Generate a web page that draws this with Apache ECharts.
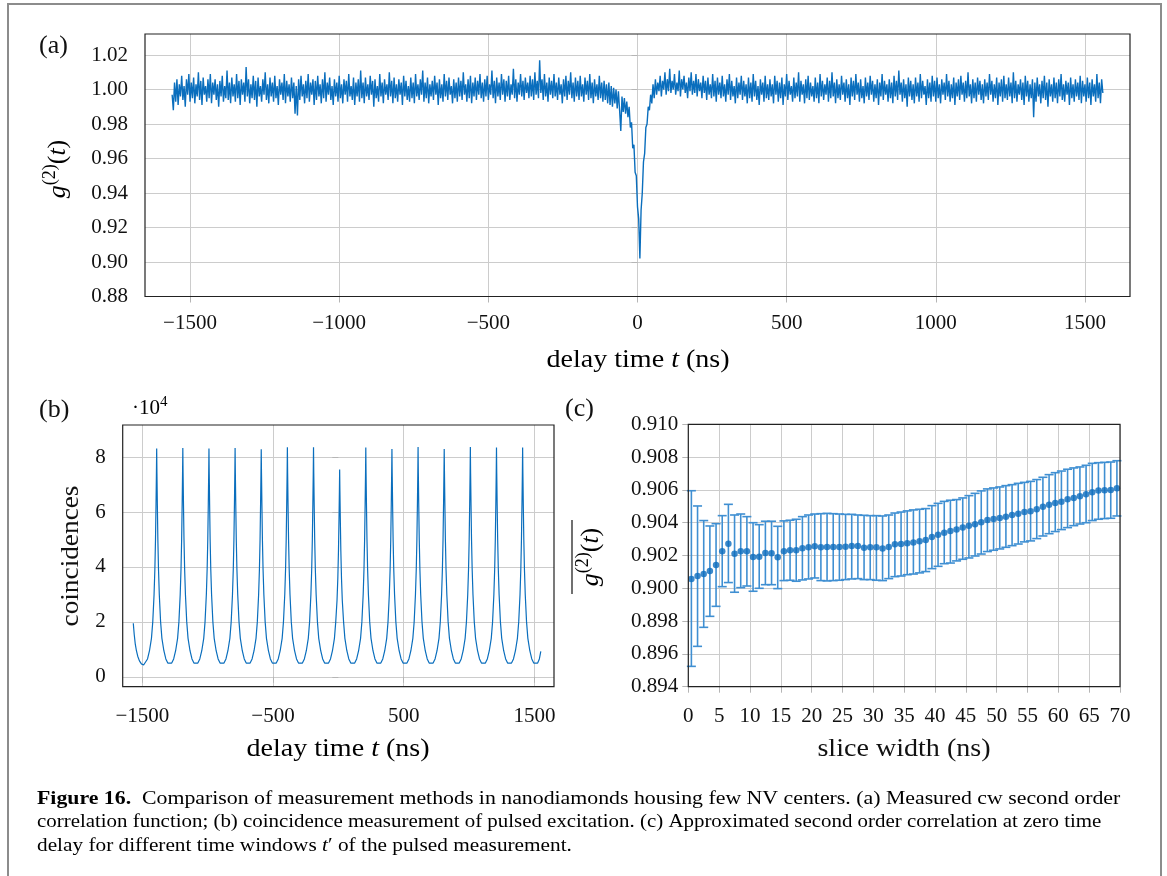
<!DOCTYPE html>
<html><head><meta charset="utf-8">
<script src="https://cdn.jsdelivr.net/npm/echarts@6/dist/echarts.min.js"></script>
<style>html,body{margin:0;padding:0;background:#fff}#c{width:1167px;height:876px}</style>
</head><body><div id="c"></div>
<script>
// ---------- Panel (a): cw g2(t), sampled every 4 ns from -1560 ns ----------
const g2Start = -1560, g2Step = 4;
const g2Values = [
0.997,0.988,1.004,0.993,1.006,0.991,1.003,0.996,1.008,0.994,1.002,0.990,1.006,0.997,1.009,0.993,1.004,0.995,1.007,0.992,
1.003,0.996,1.010,0.994,1.005,0.991,1.007,0.997,1.002,0.993,1.006,0.995,1.009,0.992,1.004,0.997,1.006,0.994,1.003,0.990,
1.005,0.996,1.008,0.993,1.002,0.995,1.011,0.994,1.004,0.992,1.007,0.996,1.003,0.993,1.009,0.995,1.005,0.991,1.006,0.997,
1.004,0.993,1.013,0.996,1.006,0.992,1.003,0.995,1.008,0.994,1.005,0.990,1.007,0.996,1.002,0.993,1.006,0.997,1.010,0.994,
1.003,0.992,1.007,0.996,1.004,0.993,1.008,0.995,1.002,0.991,1.006,0.997,1.004,0.994,1.009,0.992,1.005,0.996,1.003,0.993,
1.007,0.995,1.004,0.986,1.002,0.985,1.006,0.994,1.008,0.996,1.003,0.992,1.005,0.995,1.009,0.993,1.004,0.997,1.006,0.991,
1.005,0.994,1.008,0.996,1.003,0.992,1.006,0.995,1.010,0.993,1.004,0.997,1.007,0.994,1.002,0.991,1.006,0.996,1.004,0.993,
1.008,0.995,1.003,0.992,1.006,0.997,1.005,0.993,1.009,0.996,1.002,0.994,1.007,0.991,1.004,0.996,1.006,0.993,1.011,0.995,
1.004,0.992,1.007,0.996,1.003,0.994,1.008,0.997,1.005,0.990,1.006,0.995,1.002,0.993,1.009,0.996,1.004,0.992,1.006,0.997,
1.003,0.994,1.010,0.996,1.005,0.992,1.007,0.995,1.003,0.993,1.006,0.997,1.004,0.991,1.008,0.996,1.005,0.994,1.002,0.993,
1.007,0.995,1.004,0.992,1.009,0.996,1.003,0.994,1.006,0.997,1.011,0.993,1.004,0.995,1.007,0.992,1.003,0.996,1.005,0.994,
1.008,0.997,1.004,0.991,1.006,0.995,1.003,0.993,1.009,0.996,1.005,0.994,1.007,0.997,1.002,0.992,1.006,0.995,1.004,0.993,
1.007,0.996,1.005,0.994,1.010,0.997,1.003,0.993,1.006,0.995,1.008,0.992,1.004,0.996,1.007,0.994,1.005,0.997,1.009,0.995,
1.004,0.993,1.006,0.996,1.008,0.994,1.003,0.997,1.011,0.995,1.005,0.992,1.007,0.996,1.004,0.994,1.009,0.997,1.006,0.993,
1.005,0.996,1.008,0.994,1.003,0.997,1.012,0.995,1.006,0.993,1.004,0.997,1.009,0.996,1.005,0.994,1.007,0.998,1.004,0.995,
1.008,0.996,1.006,0.994,1.010,0.997,1.005,0.995,1.017,0.998,1.006,0.994,1.009,0.996,1.004,0.993,1.007,0.997,1.005,0.995,
1.009,0.996,1.004,0.994,1.007,0.997,1.003,0.992,1.006,0.996,1.008,0.994,1.005,0.997,1.010,0.995,1.004,0.993,1.007,0.996,
1.005,0.994,1.008,0.996,1.003,0.993,1.007,0.997,1.005,0.994,1.009,0.995,1.004,0.992,1.006,0.996,1.003,0.994,1.008,0.995,
1.004,0.993,1.005,0.994,1.003,0.992,1.004,0.991,1.002,0.990,1.001,0.992,1.000,0.989,0.999,0.988,0.976,0.996,0.987,0.995,
0.986,0.993,0.984,0.990,0.978,0.981,0.966,0.968,0.952,0.950,0.932,0.925,0.902,0.930,0.940,0.958,0.963,0.978,0.980,0.990,
0.988,0.997,0.992,1.003,0.995,1.006,0.997,1.004,0.999,1.008,0.996,1.005,1.000,1.010,0.997,1.006,0.999,1.012,0.998,1.005,
1.000,1.009,0.997,1.004,0.999,1.011,0.996,1.006,1.000,1.008,0.998,1.004,0.995,1.007,0.999,1.010,0.997,1.005,0.998,1.009,
0.996,1.006,0.999,1.004,0.995,1.008,0.998,1.005,0.994,1.007,0.997,1.003,0.995,1.009,0.996,1.005,0.993,1.007,0.997,1.004,
0.995,1.008,0.996,1.003,0.993,1.006,0.997,1.009,0.994,1.005,0.996,1.002,0.992,1.007,0.995,1.004,0.997,1.008,0.994,1.005,
0.996,1.003,0.992,1.007,0.995,1.004,0.993,1.009,0.996,1.005,0.994,1.002,0.991,1.006,0.997,1.004,0.993,1.008,0.995,1.003,
0.994,1.006,0.996,1.003,0.992,1.008,0.997,1.005,0.993,1.004,0.995,1.007,0.991,1.003,0.996,1.009,0.994,1.005,0.997,1.002,
0.993,1.007,0.995,1.004,0.996,1.010,0.993,1.005,0.997,1.003,0.992,1.006,0.995,1.008,0.994,1.004,0.996,1.002,0.993,1.007,
0.995,1.004,0.992,1.009,0.996,1.005,0.994,1.003,0.997,1.007,0.993,1.005,0.995,1.010,0.996,1.004,0.992,1.006,0.995,1.003,
0.994,1.008,0.997,1.004,0.993,1.006,0.995,1.003,0.991,1.007,0.996,1.005,0.994,1.009,0.997,1.004,0.993,1.006,0.995,1.002,
0.992,1.007,0.996,1.004,0.994,1.008,0.997,1.005,0.993,1.003,0.995,1.006,0.991,1.004,0.996,1.009,0.994,1.005,0.997,1.003,
0.993,1.006,0.995,1.004,0.992,1.008,0.996,1.005,0.994,1.011,0.997,1.004,0.993,1.006,0.995,1.003,0.990,1.007,0.996,1.005,
0.994,1.003,0.992,1.007,0.996,1.004,0.993,1.009,0.995,1.005,0.997,1.002,0.991,1.006,0.995,1.004,0.993,1.008,0.996,1.005,
0.993,1.007,0.995,1.003,0.992,1.006,0.997,1.004,0.994,1.009,0.996,1.005,0.993,1.003,0.995,1.007,0.991,1.004,0.996,1.006,
0.994,1.008,0.997,1.004,0.993,1.005,0.995,1.010,0.996,1.003,0.992,1.006,0.995,1.004,0.993,1.007,0.997,1.005,0.994,1.003,
0.992,1.006,0.996,1.004,0.994,1.009,0.997,1.005,0.993,1.003,0.995,1.007,0.991,1.004,0.996,1.006,0.993,1.008,0.995,1.003,
0.994,1.007,0.996,1.004,0.992,1.010,0.995,1.005,0.993,1.003,0.997,1.006,0.994,1.004,0.991,1.008,0.996,1.005,0.993,1.003,
0.995,1.006,0.984,1.004,0.993,1.007,0.996,1.003,0.992,1.005,0.995,1.008,0.994,1.004,0.990,1.006,0.996,1.003,0.993,1.007,
0.995,1.004,0.992,1.006,0.996,1.009,0.994,1.003,0.993,1.005,0.997,1.004,0.991,1.007,0.995,1.003,0.993,1.006,0.996,1.004,
0.994,1.008,0.992,1.005,0.996,1.003,0.993,1.007,0.995,1.004,0.991,1.006,0.996,1.003,0.993,1.009,0.995,1.004,0.992,1.006,
0.998
];
const aTicksX = [-1500,-1000,-500,0,500,1000,1500];
const aTicksY = [0.88,0.90,0.92,0.94,0.96,0.98,1.00,1.02];

// ---------- Panel (b): pulsed coincidences (units of 1e4) ----------
const coincPeakTimes = [-1390,-1190,-990,-790,-590,-390,-190,10,210,410,610,810,1010,1210,1410];
const coincOffsets = [-100,-85,-70,-55,-40,-30,-20,-14,-9,-5,-2,0,2,5,9,14,20,30,40,55,70,85];
const coincRows = [
[0.43,0.50,0.65,0.95,1.40,2.00,3.00,3.90,5.00,6.30,7.40,8.31,7.40,6.30,5.00,3.90,3.00,2.00,1.40,0.95,0.65,0.50],
[0.43,0.50,0.65,0.95,1.40,2.00,3.00,3.90,5.00,6.30,7.40,8.33,7.40,6.30,5.00,3.90,3.00,2.00,1.40,0.95,0.65,0.50],
[0.43,0.50,0.65,0.95,1.40,2.00,3.00,3.90,5.00,6.30,7.40,8.31,7.40,6.30,5.00,3.90,3.00,2.00,1.40,0.95,0.65,0.50],
[0.43,0.50,0.65,0.95,1.40,2.00,3.00,3.90,5.00,6.30,7.40,8.33,7.40,6.30,5.00,3.90,3.00,2.00,1.40,0.95,0.65,0.50],
[0.43,0.50,0.65,0.95,1.40,2.00,3.00,3.90,5.00,6.30,7.40,8.29,7.40,6.30,5.00,3.90,3.00,2.00,1.40,0.95,0.65,0.50],
[0.43,0.50,0.65,0.95,1.40,2.00,3.00,3.90,5.00,6.30,7.40,8.36,7.40,6.30,5.00,3.90,3.00,2.00,1.40,0.95,0.65,0.50],
[0.43,0.50,0.65,0.95,1.40,2.00,3.00,3.90,5.00,6.30,7.40,8.36,7.40,6.30,5.00,3.90,3.00,2.00,1.40,0.95,0.65,0.50],
[0.43,0.50,0.65,0.95,1.40,2.00,2.80,3.60,4.60,5.75,6.75,7.55,6.75,5.75,4.60,3.60,2.80,2.00,1.40,0.95,0.65,0.50],
[0.43,0.50,0.65,0.95,1.40,2.00,3.00,3.90,5.00,6.30,7.40,8.35,7.40,6.30,5.00,3.90,3.00,2.00,1.40,0.95,0.65,0.50],
[0.43,0.50,0.65,0.95,1.40,2.00,3.00,3.90,5.00,6.30,7.40,8.30,7.40,6.30,5.00,3.90,3.00,2.00,1.40,0.95,0.65,0.50],
[0.43,0.50,0.65,0.95,1.40,2.00,3.00,3.90,5.00,6.30,7.40,8.37,7.40,6.30,5.00,3.90,3.00,2.00,1.40,0.95,0.65,0.50],
[0.43,0.50,0.65,0.95,1.40,2.00,3.00,3.90,5.00,6.30,7.40,8.30,7.40,6.30,5.00,3.90,3.00,2.00,1.40,0.95,0.65,0.50],
[0.43,0.50,0.65,0.95,1.40,2.00,3.00,3.90,5.00,6.30,7.40,8.37,7.40,6.30,5.00,3.90,3.00,2.00,1.40,0.95,0.65,0.50],
[0.43,0.50,0.65,0.95,1.40,2.00,3.00,3.90,5.00,6.30,7.40,8.35,7.40,6.30,5.00,3.90,3.00,2.00,1.40,0.95,0.65,0.50],
[0.43,0.50,0.65,0.95,1.40,2.00,3.00,3.90,5.00,6.30,7.40,8.35,7.40,6.30,5.00,3.90,3.00,2.00,1.40,0.95,0.65,0.50]
];
const coincHeadTimes = [-1569,-1562,-1554,-1545,-1535,-1522,-1507];
const coincHeadValues = [1.95,1.55,1.20,0.95,0.75,0.58,0.47];
const coincTailTimes = [1510,1525,1538,1549];
const coincTailValues = [0.43,0.50,0.65,0.93];
const bTicksX = [-1500,-500,500,1500];
const bTicksY = [0,2,4,6,8];

// ---------- Panel (c): approximated g2(0) vs slice width ----------
const sliceWidths = [0.5,1.5,2.5,3.5,4.5,5.5,6.5,7.5,8.5,9.5,10.5,11.5,12.5,13.5,14.5,15.5,16.5,17.5,18.5,19.5,
20.5,21.5,22.5,23.5,24.5,25.5,26.5,27.5,28.5,29.5,30.5,31.5,32.5,33.5,34.5,35.5,36.5,37.5,38.5,39.5,
40.5,41.5,42.5,43.5,44.5,45.5,46.5,47.5,48.5,49.5,50.5,51.5,52.5,53.5,54.5,55.5,56.5,57.5,58.5,59.5,
60.5,61.5,62.5,63.5,64.5,65.5,66.5,67.5,68.5,69.5];
const g2Mean = [0.90057,0.90075,0.90087,0.90106,0.90142,0.90226,0.90272,0.90211,0.90226,0.90226,
0.90191,0.90193,0.90215,0.90213,0.90189,0.90226,0.90232,0.90232,0.90244,0.90250,
0.90256,0.90250,0.90252,0.90252,0.90252,0.90254,0.90258,0.90258,0.90248,0.90250,
0.90250,0.90242,0.90252,0.90268,0.90270,0.90274,0.90280,0.90287,0.90295,0.90313,
0.90327,0.90339,0.90350,0.90358,0.90370,0.90381,0.90390,0.90402,0.90417,0.90423,
0.90429,0.90437,0.90447,0.90455,0.90465,0.90470,0.90482,0.90498,0.90510,0.90520,
0.90528,0.90543,0.90551,0.90561,0.90573,0.90585,0.90596,0.90598,0.90600,0.90610];
const g2Upper = [0.90595,0.90502,0.90413,0.90380,0.90394,0.90443,0.90512,0.90447,0.90453,0.90437,
0.90400,0.90388,0.90409,0.90409,0.90378,0.90411,0.90415,0.90421,0.90437,0.90447,
0.90453,0.90455,0.90457,0.90455,0.90453,0.90451,0.90451,0.90447,0.90445,0.90443,
0.90443,0.90441,0.90447,0.90459,0.90465,0.90472,0.90478,0.90482,0.90486,0.90504,
0.90518,0.90530,0.90537,0.90541,0.90551,0.90565,0.90579,0.90594,0.90606,0.90612,
0.90618,0.90626,0.90632,0.90640,0.90646,0.90652,0.90663,0.90677,0.90693,0.90705,
0.90715,0.90726,0.90734,0.90740,0.90750,0.90762,0.90766,0.90768,0.90770,0.90778];
const g2Lower = [0.89524,0.89646,0.89762,0.89829,0.89890,0.90010,0.90035,0.89976,0.90004,0.90014,
0.89982,0.90000,0.90022,0.90022,0.89998,0.90047,0.90049,0.90043,0.90051,0.90057,
0.90063,0.90047,0.90045,0.90047,0.90049,0.90053,0.90057,0.90059,0.90053,0.90053,
0.90049,0.90047,0.90059,0.90071,0.90075,0.90083,0.90087,0.90094,0.90102,0.90120,
0.90134,0.90150,0.90154,0.90167,0.90177,0.90185,0.90197,0.90209,0.90224,0.90232,
0.90240,0.90250,0.90260,0.90270,0.90283,0.90289,0.90303,0.90319,0.90333,0.90346,
0.90358,0.90370,0.90382,0.90392,0.90400,0.90413,0.90421,0.90425,0.90427,0.90441];
const cTicksY = [0.894,0.896,0.898,0.900,0.902,0.904,0.906,0.908,0.910];

// ---------- build ----------
const FONT = "'Liberation Serif','DejaVu Serif',serif";
const BLUE = '#0a6ebd';
const TXT = '#111';
const GRID_C = '#cccccc';
const TICK_C = '#b5b5b5';

const g2Data = g2Values.map((v, i) => [g2Start + i * g2Step, v]);
const coincData = [];
coincHeadTimes.forEach((t, i) => coincData.push([t, coincHeadValues[i]]));
coincPeakTimes.forEach((p, k) => coincOffsets.forEach((o, j) => coincData.push([p + o, coincRows[k][j]])));
coincTailTimes.forEach((t, i) => coincData.push([t, coincTailValues[i]]));
const meanData = sliceWidths.map((x, i) => [x, g2Mean[i]]);
const errData = sliceWidths.map((x, i) => [x, g2Lower[i], g2Upper[i]]);

const minus = s => String(s).replace('-', '\u2212');

function axis(gi, min, max, ticks, fmt, margin, extra) {
  return Object.assign({
    gridIndex: gi, type: 'value', min: min, max: max,
    axisLine: { show: false },
    axisTick: { show: true, customValues: ticks, length: 6, inside: false, lineStyle: { color: TICK_C, width: 1 } },
    axisLabel: { customValues: ticks, formatter: fmt, fontFamily: FONT, fontSize: 21, color: TXT, margin: margin },
    splitLine: { show: true, lineStyle: { color: GRID_C, width: 1 } }
  }, extra || {});
}

const boxes = [
  { x: 145, y: 34, w: 985, h: 262.5 },
  { x: 122.7, y: 425, w: 431.3, h: 261.7 },
  { x: 688.3, y: 424.3, w: 431.7, h: 262.4 }
];

const TS = 26; // axis-title font size
const g2rich = {
  g: { fontFamily: FONT, fontSize: TS, fontStyle: 'italic', color: TXT, lineHeight: 34, verticalAlign: 'middle' },
  n: { fontFamily: FONT, fontSize: TS, color: TXT, lineHeight: 34, verticalAlign: 'middle' },
  s: { fontFamily: FONT, fontSize: 18, color: TXT, lineHeight: 16, verticalAlign: 'top' }
};
const capRich = {
  b: { fontFamily: FONT, fontSize: 19, fontWeight: 'bold', color: '#222' },
  n: { fontFamily: FONT, fontSize: 19, color: '#222' },
  i: { fontFamily: FONT, fontSize: 19, fontStyle: 'italic', color: '#222' }
};

const graphics = [
  // outer frame
  { type: 'rect', shape: { x: 8, y: 4, width: 1153, height: 900 }, style: { fill: 'none', stroke: '#8c8c8c', lineWidth: 2 }, z: 50 },
  // panel labels
  { type: 'text', x: 39, y: 46, style: { text: '(a)', fontFamily: FONT, fontSize: 26, fill: TXT, align: 'left', verticalAlign: 'middle' } },
  { type: 'text', x: 39, y: 410, style: { text: '(b)', fontFamily: FONT, fontSize: 26, fill: TXT, align: 'left', verticalAlign: 'middle' } },
  { type: 'text', x: 565, y: 409, style: { text: '(c)', fontFamily: FONT, fontSize: 26, fill: TXT, align: 'left', verticalAlign: 'middle' } },
  // axis titles
  { type: 'text', x: 638, y: 360, scaleX: 1.08, style: { text: '{n|delay time }{g|t}{n| (ns)}', rich: g2rich, align: 'center', verticalAlign: 'middle' } },
  { type: 'text', x: 338, y: 749, scaleX: 1.08, style: { text: '{n|delay time }{g|t}{n| (ns)}', rich: g2rich, align: 'center', verticalAlign: 'middle' } },
  { type: 'text', x: 904, y: 749, scaleX: 1.08, style: { text: 'slice width (ns)', fontFamily: FONT, fontSize: TS, fill: TXT, align: 'center', verticalAlign: 'middle' } },
  { type: 'text', x: 58, y: 169, rotation: Math.PI / 2, style: { text: '{g|g}{s|(2)}{n|(}{g|t}{n|)}', rich: g2rich, align: 'center', verticalAlign: 'middle' } },
  { type: 'text', x: 71, y: 556, rotation: Math.PI / 2, scaleX: 1.05, style: { text: 'coincidences', fontFamily: FONT, fontSize: TS, fill: TXT, align: 'center', verticalAlign: 'middle' } },
  { type: 'text', x: 591, y: 557, rotation: Math.PI / 2, style: { text: '{g|g}{s|(2)}{n|(}{g|t}{n|)}', rich: g2rich, align: 'center', verticalAlign: 'middle' } },
  { type: 'line', shape: { x1: 572, y1: 520, x2: 572, y2: 594 }, style: { stroke: TXT, lineWidth: 1.2 } },
  // x10^4 multiplier
  { type: 'text', x: 132, y: 408, style: { text: '{n|\u00b710}{s|4}', rich: {
      n: { fontFamily: FONT, fontSize: 21, color: TXT, lineHeight: 26, verticalAlign: 'middle' },
      s: { fontFamily: FONT, fontSize: 15, color: TXT, lineHeight: 15, verticalAlign: 'top' } }, align: 'left', verticalAlign: 'middle' } },
  // caption (three lines)
  { type: 'text', x: 37, y: 799, scaleX: 1.148, style: { text: '{b|Figure 16.}{n|  Comparison of measurement methods in nanodiamonds housing few NV centers. (a) Measured cw second order}',
      rich: capRich, align: 'left', verticalAlign: 'middle' } },
  { type: 'text', x: 37, y: 822, scaleX: 1.10, style: { text: '{n|correlation function; (b) coincidence measurement of pulsed excitation. (c) Approximated second order correlation at zero time}',
      rich: capRich, align: 'left', verticalAlign: 'middle' } },
  { type: 'text', x: 37, y: 846, scaleX: 1.12, style: { text: '{n|delay for different time windows }{i|t}{n|\u2032 of the pulsed measurement.}',
      rich: capRich, align: 'left', verticalAlign: 'middle' } }
];
boxes.forEach(b => graphics.push({ type: 'rect', z: 40, shape: { x: b.x, y: b.y, width: b.w, height: b.h }, style: { fill: 'none', stroke: '#222', lineWidth: 1.2 } }));

const option = {
  animation: false,
  backgroundColor: '#fff',
  grid: boxes.map(b => ({ left: b.x, top: b.y, width: b.w, height: b.h, containLabel: false })),
  xAxis: [
    axis(0, -1651, 1651, aTicksX, v => minus(v), 16),
    axis(1, -1650, 1650, bTicksX, v => minus(v), 19),
    axis(2, 0, 70, undefined, v => String(v), 19, { interval: 5 })
  ],
  yAxis: [
    axis(0, 0.88, 1.0322, aTicksY, v => v.toFixed(2), 17),
    axis(1, -0.36, 9.17, bTicksY, v => String(v), 17),
    axis(2, 0.894, 0.910, cTicksY, v => v.toFixed(3), 10)
  ],
  series: [
    { type: 'line', xAxisIndex: 0, yAxisIndex: 0, data: g2Data, showSymbol: false, symbol: 'none',
      lineStyle: { color: BLUE, width: 1.4 }, sampling: null, z: 3 },
    { type: 'line', xAxisIndex: 1, yAxisIndex: 1, data: coincData, showSymbol: false, symbol: 'none',
      lineStyle: { color: BLUE, width: 1.2 }, z: 3 },
    { type: 'custom', xAxisIndex: 2, yAxisIndex: 2, data: errData, encode: { x: 0, y: [1, 2] }, z: 3,
      renderItem: function (params, api) {
        const x = api.value(0);
        const pLo = api.coord([x, api.value(1)]);
        const pHi = api.coord([x, api.value(2)]);
        const hw = 4.5;
        const st = { stroke: '#3f8fd2', lineWidth: 1.6, fill: null };
        return { type: 'group', children: [
          { type: 'line', shape: { x1: pLo[0], y1: pLo[1], x2: pHi[0], y2: pHi[1] }, style: st },
          { type: 'line', shape: { x1: pLo[0] - hw, y1: pLo[1], x2: pLo[0] + hw, y2: pLo[1] }, style: st },
          { type: 'line', shape: { x1: pHi[0] - hw, y1: pHi[1], x2: pHi[0] + hw, y2: pHi[1] }, style: st }
        ] };
      } },
    { type: 'scatter', xAxisIndex: 2, yAxisIndex: 2, data: meanData, symbol: 'circle', symbolSize: 6.5,
      itemStyle: { color: '#0b6cbd' }, z: 4 }
  ],
  graphic: graphics
};

const chart = echarts.init(document.getElementById('c'), null, { renderer: 'canvas' });
chart.setOption(option);
</script>
</body></html>
